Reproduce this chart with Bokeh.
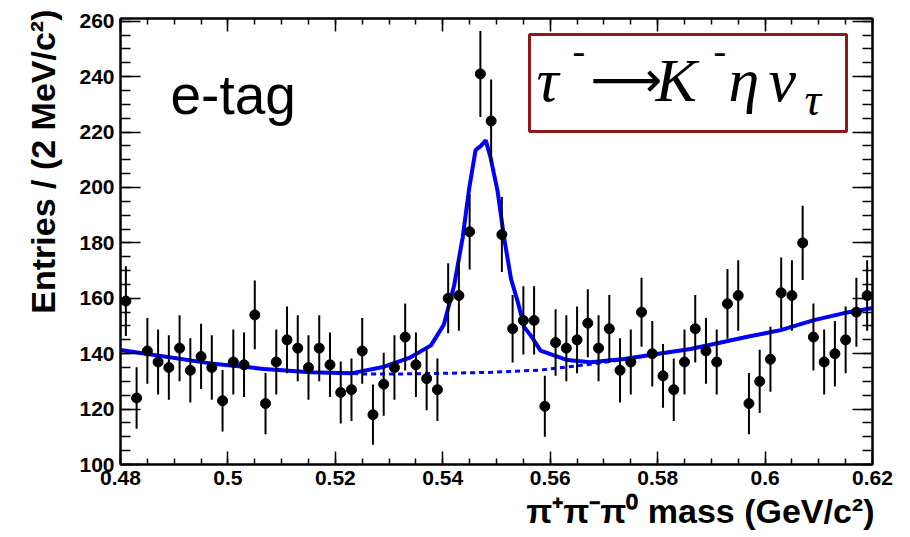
import numpy as np
from bokeh.plotting import figure
from bokeh.models import (Range1d, LinearAxis, Label, FixedTicker, BoxAnnotation,
                          CustomJSTickFormatter, Title)
from bokeh.embed import file_html
from bokeh.resources import INLINE

# ---------------- data ----------------
mass_lo, mass_hi, bin_width = 0.48, 0.62, 0.002
counts = [159, 124, 141, 137, 135, 142, 134, 139, 135, 123,
          137, 136, 154, 122, 137, 145, 142, 135, 142, 136,
          126, 127, 141, 118, 129, 135, 146, 136, 131, 127,
          160, 161, 184, 241, 224, 183, 149, 152, 152, 121,
          144, 142, 145, 151, 142, 149, 134, 137, 155, 140,
          132, 127, 137, 149, 141, 137, 158, 161, 122, 130,
          138, 162, 161, 180, 146, 137, 140, 145, 155, 161]

fit_mass = [0.4800, 0.4968, 0.5067, 0.5154, 0.5229, 0.5291, 0.5340, 0.5378,
            0.5402, 0.5421, 0.5437, 0.5449, 0.5461, 0.5471, 0.5480, 0.5489,
            0.5502, 0.5514, 0.5527, 0.5539, 0.5552, 0.5564, 0.5582, 0.5632,
            0.5675, 0.5737, 0.5799, 0.5861, 0.5905, 0.5967, 0.6029, 0.6091,
            0.6153, 0.6200]
fit_val = [141.3, 136.5, 134.5, 133.3, 132.9, 135.3, 138.7, 143.0,
           150.5, 164.5, 181.9, 199.5, 213.5, 215.0, 217.0, 210.7,
           198.7, 182.0, 167.0, 159.1, 149.5, 146.5, 141.1, 137.7,
           136.9, 138.1, 139.9, 141.7, 143.5, 146.1, 148.5, 152.1,
           154.9, 156.5]

bg_mass = [0.4800, 0.4968, 0.5067, 0.5154, 0.5229, 0.5247, 0.5322, 0.5400,
           0.5495, 0.5582, 0.5675, 0.5737, 0.5799, 0.5861, 0.5905, 0.5967,
           0.6029, 0.6091, 0.6153, 0.6200]
bg_val = [141.3, 136.5, 134.5, 133.3, 132.9, 132.7, 132.7, 132.9,
          133.3, 134.1, 136.2, 137.9, 139.9, 141.7, 143.5, 146.1,
          148.5, 152.1, 154.9, 156.5]

x_ticks = [0.48, 0.5, 0.52, 0.54, 0.56, 0.58, 0.6, 0.62]
y_ticks = [100, 120, 140, 160, 180, 200, 220, 240, 260]

# ---------------- derived ----------------
counts_arr = np.array(counts, dtype=float)
centers = mass_lo + bin_width * (np.arange(len(counts)) + 0.5)
err = np.sqrt(counts_arr)

# page-pixel -> frame-screen helpers (frame: left 120, bottom 464)
FL, FB = 120, 464
K_BASE = 0.364  # empirical baseline correction (fraction of font size)
def sx(px):
    return px - FL
def sy(py):
    return FB - py

p = figure(width=910, height=537, x_range=Range1d(mass_lo, mass_hi),
           y_range=Range1d(100, 261), output_backend="svg", toolbar_location=None,
           min_border_left=120, min_border_right=38, min_border_top=18,
           min_border_bottom=73)
p.xgrid.visible = False
p.ygrid.visible = False
p.outline_line_color = "black"
p.outline_line_width = 2
p.background_fill_color = "white"
p.border_fill_color = "white"

x_minor = list(np.round(np.arange(0.48, 0.6201, 0.005), 4))
y_minor = list(range(100, 261, 5))
xt = FixedTicker(ticks=x_ticks, minor_ticks=x_minor)
yt = FixedTicker(ticks=y_ticks, minor_ticks=y_minor)
fmt = CustomJSTickFormatter(code="return String(Math.round(tick*1000)/1000);")
blank = CustomJSTickFormatter(code="return '';")

def style(ax, tin):
    ax.major_tick_in = tin
    ax.major_tick_out = 0
    ax.minor_tick_in = tin // 2
    ax.minor_tick_out = 0
    ax.axis_line_width = 2
    ax.major_tick_line_width = 1.5
    ax.minor_tick_line_width = 1.5
    ax.major_label_text_font = "Liberation Sans"
    ax.major_label_text_font_style = "bold"
    ax.major_label_text_font_size = "21px"
    ax.major_label_text_color = "black"
    ax.major_label_standoff = 6

p.xaxis.ticker = xt
p.xaxis.formatter = fmt
p.yaxis.ticker = yt
style(p.xaxis[0], 13)
style(p.yaxis[0], 20)

top = LinearAxis(ticker=FixedTicker(ticks=x_ticks, minor_ticks=x_minor), formatter=blank)
style(top, 13)
p.add_layout(top, "above")
right = LinearAxis(ticker=FixedTicker(ticks=y_ticks, minor_ticks=y_minor), formatter=blank)
style(right, 20)
p.add_layout(right, "right")

# axis titles (outside the frame -> side-panel titles)
p.add_layout(Title(text="π⁺π⁻π⁰ mass (GeV/c²)", align="right", offset=-2,
                   text_font="Liberation Sans", text_font_style="bold",
                   text_font_size="34px", text_color="black", standoff=4), "below")
p.add_layout(Title(text="Entries / (2 MeV/c²)", align="right", offset=-9,
                   text_font="Liberation Sans", text_font_style="bold",
                   text_font_size="34px", text_color="black", standoff=29), "left")

# fit curves
p.line(bg_mass, bg_val, line_color="#0000ff", line_width=3, line_dash="5 4")
p.line(fit_mass, fit_val, line_color="#0000ff", line_width=4)

# data
p.segment(x0=centers, y0=counts_arr - err, x1=centers, y1=counts_arr + err,
          line_color="black", line_width=2)
p.scatter(centers, counts_arr, size=10, fill_color="black", line_color="black")

def lab(text, px, py, size, font="Liberation Serif", italic=True):
    p.add_layout(Label(x=sx(px), y=sy(py - K_BASE * size), x_units="screen", y_units="screen",
                       text=text, text_font=font,
                       text_font_style="italic" if italic else "normal",
                       text_font_size=f"{size}px", text_baseline="alphabetic",
                       text_color="black"))

# e-tag
lab("e-tag", 170, 115, 55, font="Liberation Sans", italic=False)

# decay box
p.add_layout(BoxAnnotation(left=sx(529), right=sx(846), top=sy(34), bottom=sy(131),
                           left_units="screen", right_units="screen",
                           top_units="screen", bottom_units="screen",
                           fill_alpha=0, line_color="#8b1a1a", line_alpha=1.0,
                           line_width=3))

lab("τ", 536, 102, 62)
lab("-", 572, 65, 38, italic=False)
lab("⟶", 590, 98, 50, font="DejaVu Sans", italic=False)
lab("K", 655, 102, 62)
lab("-", 713, 65, 38, italic=False)
lab("η", 728, 102, 62)
lab("ν", 768, 102, 62)
lab("τ", 804, 116, 46)

open("out.html", "w").write(file_html(p, INLINE))
